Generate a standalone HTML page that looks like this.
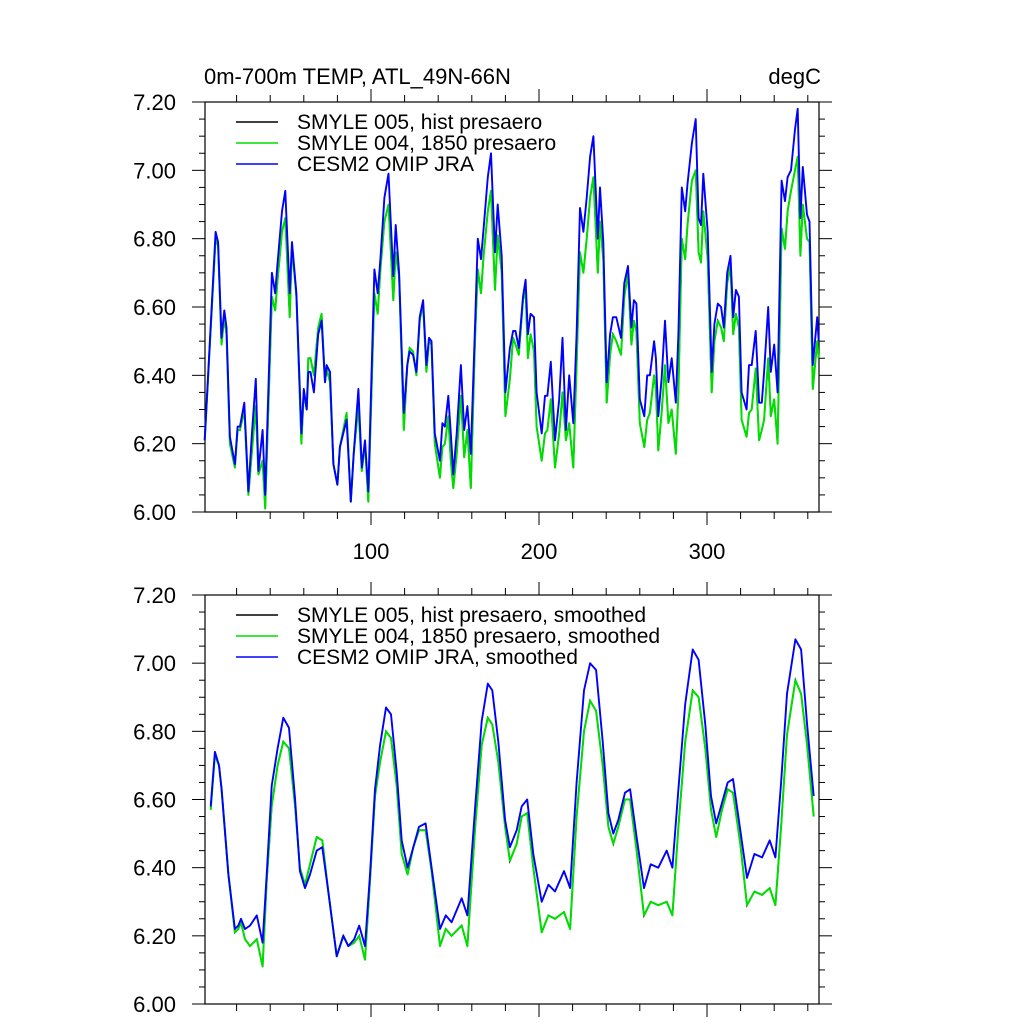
<!DOCTYPE html>
<html><head><meta charset="utf-8">
<style>
html,body{margin:0;padding:0;background:#fff;}
svg{display:block;font-family:"Liberation Sans",sans-serif;}
</style></head>
<body>
<svg id="chart" width="1024" height="1024" viewBox="0 0 1024 1024" xmlns="http://www.w3.org/2000/svg">
<text x="204" y="84" font-size="22">0m-700m TEMP, ATL_49N-66N</text>
<text x="821" y="84" font-size="22" text-anchor="end">degC</text>
</svg>
<script>
// ---- data (top panel, raw daily) ----
const topDays = [1,7.5,9,11,12.7,14,16,19,20.6,22,24.6,27,29,31.4,33,35.5,37,41,43,44.4,47,49,51.6,53,55.6,58.6,60,61.7,62.7,64,66,68.6,70.6,72.6,73.6,75.6,77.6,80,81.5,85.5,88,89.7,92.5,94.5,96.4,98.4,102,104,105.6,108,110.4,113.3,114.7,116.7,119.5,121.6,123,125,127,129,131,133,134.5,136,138,141,142.5,144,146,147.5,149,151,153.5,155.5,157.4,159.4,162,163.6,165.5,167,169.5,171.4,173.8,175.4,177.8,180,182.7,184.6,186,188,190.5,192,193.4,195,197,198.6,201.6,203.6,205,207,209.5,212,214,216,218,220.4,222.4,224.4,226.4,228.4,230.4,232.4,235,236.3,238.3,240.3,242.3,244,246,248.8,250.8,253,255,256.5,258,260,262.7,264.4,266,268.5,269.6,271,273,275,277,279,281.4,283,285,287,288.4,291,293.3,295,296.4,297.8,300.4,302.8,304.4,306.4,308.4,310,312,314,315.6,317.2,319,320.6,323.6,325,326.6,329,331,332.6,334,336.4,338,340,342,344.4,346.4,348,350,352.4,354,355.6,357,359.5,361,363,365.6,366.5];
const topBlue = [6.21,6.82,6.79,6.51,6.59,6.54,6.22,6.14,6.25,6.25,6.32,6.06,6.22,6.39,6.12,6.24,6.05,6.70,6.64,6.73,6.88,6.94,6.64,6.79,6.64,6.23,6.36,6.30,6.41,6.41,6.35,6.52,6.56,6.38,6.43,6.41,6.14,6.08,6.19,6.27,6.03,6.17,6.36,6.13,6.21,6.06,6.71,6.64,6.74,6.92,6.99,6.69,6.84,6.70,6.29,6.43,6.47,6.46,6.41,6.57,6.62,6.43,6.51,6.50,6.23,6.15,6.26,6.25,6.34,6.23,6.11,6.23,6.43,6.24,6.31,6.17,6.56,6.80,6.74,6.83,6.98,7.05,6.76,6.90,6.75,6.35,6.48,6.53,6.53,6.48,6.63,6.68,6.52,6.58,6.57,6.35,6.23,6.34,6.34,6.44,6.21,6.33,6.51,6.24,6.40,6.26,6.52,6.89,6.82,6.92,7.04,7.10,6.80,6.95,6.79,6.38,6.52,6.57,6.57,6.51,6.67,6.72,6.54,6.62,6.61,6.33,6.28,6.40,6.40,6.50,6.45,6.28,6.39,6.56,6.38,6.45,6.32,6.52,6.95,6.88,6.96,7.08,7.15,6.86,6.84,6.99,6.82,6.41,6.55,6.61,6.60,6.54,6.70,6.75,6.57,6.65,6.63,6.35,6.30,6.43,6.43,6.53,6.32,6.32,6.41,6.60,6.41,6.49,6.35,6.97,6.91,6.98,7.00,7.12,7.18,6.86,7.01,6.87,6.85,6.43,6.57,6.50];
const topGreen = [6.21,6.80,6.78,6.49,6.57,6.52,6.20,6.13,6.24,6.24,6.30,6.05,6.17,6.31,6.11,6.15,6.01,6.63,6.59,6.68,6.82,6.86,6.57,6.78,6.63,6.20,6.35,6.30,6.45,6.45,6.40,6.54,6.58,6.38,6.42,6.38,6.14,6.08,6.19,6.29,6.03,6.17,6.31,6.12,6.20,6.03,6.64,6.58,6.71,6.85,6.90,6.62,6.76,6.69,6.24,6.43,6.48,6.47,6.40,6.56,6.61,6.41,6.50,6.49,6.20,6.10,6.19,6.20,6.28,6.15,6.07,6.17,6.34,6.16,6.24,6.07,6.52,6.71,6.64,6.75,6.88,6.94,6.65,6.81,6.70,6.28,6.39,6.51,6.49,6.46,6.62,6.65,6.45,6.52,6.47,6.25,6.15,6.23,6.24,6.33,6.13,6.23,6.35,6.21,6.26,6.13,6.43,6.76,6.70,6.80,6.92,6.98,6.70,6.85,6.74,6.32,6.46,6.52,6.50,6.46,6.63,6.70,6.49,6.56,6.53,6.26,6.19,6.27,6.29,6.40,6.36,6.18,6.29,6.43,6.26,6.30,6.17,6.35,6.80,6.74,6.84,6.97,7.00,6.76,6.73,6.88,6.74,6.35,6.50,6.56,6.54,6.50,6.67,6.72,6.52,6.58,6.54,6.27,6.22,6.29,6.30,6.42,6.21,6.24,6.27,6.45,6.28,6.33,6.20,6.83,6.77,6.88,6.94,7.00,7.04,6.75,6.90,6.80,6.79,6.36,6.50,6.45];
// ---- data (bottom panel, smoothed) ----
const botDays = [4.6,7.1,9.5,11.1,15.1,19,21,22.6,25,28,32,35.5,37.9,40.9,44.4,47.8,51.2,54.8,57.7,60.7,63.7,67.7,71,74.6,79.6,83.5,86.5,90,93,96.4,99.4,102.4,105.4,108.9,111.9,115.3,118.3,121.8,125.2,128.6,132.5,136.1,141.1,144.5,148,154,157.4,162,165.9,169.5,172.2,175.8,179.8,182.7,186.7,189.7,193,196.6,201.6,205.6,209.5,214.9,218.5,222.4,226.8,230.4,234,237.9,241.3,244.2,247.2,251.2,254.2,258.1,262.5,266.5,271,276,279.4,283,287,291.5,295,299,302.4,305.5,308.9,312.3,315.5,319.8,323.8,328.2,332.8,337.3,340.7,344.1,347.6,352.6,356,359.6,363.5];
const botBlue = [6.58,6.74,6.70,6.63,6.38,6.22,6.23,6.25,6.22,6.23,6.26,6.18,6.38,6.64,6.75,6.84,6.81,6.60,6.39,6.34,6.38,6.45,6.46,6.33,6.14,6.20,6.17,6.19,6.23,6.17,6.38,6.63,6.76,6.87,6.85,6.68,6.48,6.40,6.46,6.52,6.53,6.40,6.22,6.26,6.24,6.31,6.26,6.58,6.83,6.94,6.92,6.77,6.54,6.46,6.51,6.58,6.60,6.44,6.30,6.35,6.33,6.39,6.34,6.65,6.92,7.00,6.98,6.77,6.56,6.50,6.54,6.62,6.63,6.49,6.34,6.41,6.40,6.45,6.40,6.63,6.88,7.04,7.01,6.82,6.61,6.53,6.59,6.65,6.66,6.51,6.37,6.44,6.43,6.48,6.43,6.65,6.91,7.07,7.04,6.82,6.61];
const botGreen = [6.57,6.73,6.70,6.63,6.38,6.21,6.22,6.24,6.19,6.17,6.19,6.11,6.36,6.58,6.70,6.77,6.75,6.58,6.40,6.35,6.41,6.49,6.48,6.33,6.14,6.20,6.17,6.18,6.20,6.13,6.36,6.61,6.71,6.80,6.78,6.64,6.44,6.38,6.46,6.51,6.51,6.39,6.17,6.22,6.20,6.23,6.17,6.52,6.76,6.84,6.82,6.71,6.52,6.42,6.47,6.55,6.56,6.40,6.21,6.26,6.25,6.27,6.22,6.55,6.80,6.89,6.86,6.70,6.52,6.47,6.52,6.60,6.60,6.45,6.26,6.30,6.29,6.30,6.26,6.52,6.77,6.92,6.90,6.75,6.57,6.49,6.57,6.63,6.62,6.47,6.29,6.33,6.32,6.34,6.29,6.52,6.79,6.95,6.91,6.76,6.55];
const yTicks = ["6.00","6.20","6.40","6.60","6.80","7.00","7.20"];
const xTickLabels = ["100","200","300"];
const legendTop = ["SMYLE 005, hist presaero","SMYLE 004, 1850 presaero","CESM2 OMIP JRA"];
const legendBot = ["SMYLE 005, hist presaero, smoothed","SMYLE 004, 1850 presaero, smoothed","CESM2 OMIP JRA, smoothed"];

const NS = "http://www.w3.org/2000/svg";
const svg = document.getElementById('chart');
function mk(tag, attrs, parent){const e=document.createElementNS(NS,tag);for(const k in attrs)e.setAttribute(k,attrs[k]);(parent||svg).appendChild(e);return e;}
const L=205,R=819;
function xS(d){return 203+1.68*d;}

function panel(name, top, bottom, days, blue, green, legend, showXLabels){
  const g = mk('g',{});
  
  
  const yS = v => bottom - (v-6.0)/1.2*(bottom-top);
  for(let i=0;i<=24;i++){
    const v=6+i*0.05, y=yS(v), major=i%4===0;
    const len=major?13:6;
    const t1 = mk('line',{x1:L-len,x2:L,y1:y,y2:y,stroke:'#000','stroke-width':1},g);
    
    
    const t2 = mk('line',{x1:R,x2:R+len,y1:y,y2:y,stroke:'#000','stroke-width':1},g);
    
    
    if(major){
      const tx = mk('text',{x:176,y:y+8,'font-size':22,'text-anchor':'end'},g);
      tx.textContent = yTicks[i/4];
      
      
    }
  }
  for(let d=20; d<=360; d+=20){
    const x=xS(d), major=d%100===0, len=major?13:7;
    const a = mk('line',{x1:x,x2:x,y1:top-len,y2:top,stroke:'#000','stroke-width':1},g);
    
    
    const b = mk('line',{x1:x,x2:x,y1:bottom,y2:bottom+len,stroke:'#000','stroke-width':1},g);
    
    
    if(major && showXLabels){
      const tx = mk('text',{x:x,y:bottom+47,'font-size':22,'text-anchor':'middle'},g);
      tx.textContent = xTickLabels[d/100-1];
      
      
    }
  }
  const frame = mk('rect',{x:L,y:top,width:R-L,height:bottom-top,fill:'none',stroke:'#000','stroke-width':1.2},g);
  
  
  const pts = arr => arr.map((v,i)=>xS(days[i]).toFixed(1)+','+yS(v).toFixed(1)).join(' ');
  const sBlack = mk('polyline',{points:pts(green),fill:'none',stroke:'#000','stroke-width':1.6},g);
  
  
  const sGreen = mk('polyline',{points:pts(green),fill:'none',stroke:'#00dd00','stroke-width':2,'stroke-linejoin':'round'},g);
  
  
  const sBlue = mk('polyline',{points:pts(blue),fill:'none',stroke:'#0000ff','stroke-width':1.9,'stroke-linejoin':'round'},g);
  
  
  const cols=['#000','#00dd00','#0000ff'];
  for(let i=0;i<3;i++){
    const y=top+20+i*21;
    const ln = mk('line',{x1:236,x2:278,y1:y,y2:y,stroke:cols[i],'stroke-width':1.6},g);
    
    
    const tx = mk('text',{x:297,y:y+7,'font-size':21},g);
    tx.textContent = legend[i];
    
    
  }
}
panel('raw-panel',102,512,topDays,topBlue,topGreen,legendTop,true);
panel('smoothed-panel',595,1004,botDays,botBlue,botGreen,legendBot,false);
</script>
</body></html>
